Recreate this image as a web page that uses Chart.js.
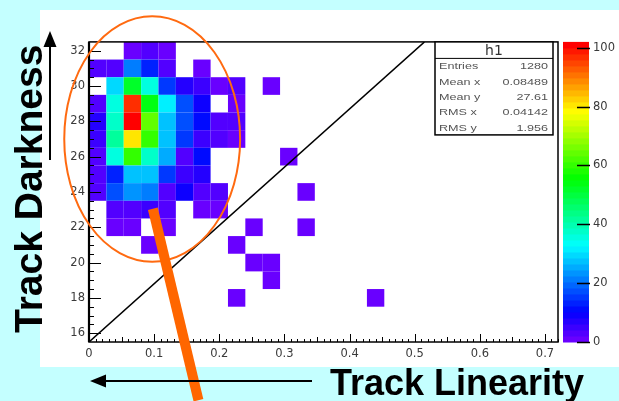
<!DOCTYPE html>
<html>
<head>
<meta charset="utf-8">
<script src="https://cdn.jsdelivr.net/npm/chart.js@4/dist/chart.umd.min.js"></script>
<style>
  html, body { margin: 0; padding: 0; background: #c4ffff; }
  canvas { display: block; }
</style>
</head>
<body>
<canvas id="c" width="619" height="401"></canvas>
<script>
// Histogram "h1": track linearity (x) against track darkness (y)

// binning
const X_RANGE = [0, 0.72];
const X_NBINS = 27;
const Y_RANGE = [15.5, 32.5];
const Z_RANGE = [0, 102];

// y bin centres, one row of counts per entry below
const Y_BINS = [32, 31, 30, 29, 28, 27, 26, 25, 24, 23, 22, 21, 20, 19, 18];

// counts per row, x bins 0..16 (the remaining x bins are empty)
const ROW_32 = [0, 0, 2, 3, 2, 0, 0, 0, 0, 0, 0, 0, 0, 0, 0, 0, 0];
const ROW_31 = [3, 4, 21, 13, 3, 0, 2, 0, 0, 0, 0, 0, 0, 0, 0, 0, 0];
const ROW_30 = [0, 30, 53, 35, 15, 8, 5, 2, 3, 0, 1, 0, 0, 0, 0, 0, 0];
const ROW_29 = [4, 35, 96, 54, 32, 17, 10, 0, 2, 0, 0, 0, 0, 0, 0, 0, 0];
const ROW_28 = [8, 38, 100, 65, 27, 17, 11, 3, 3, 0, 0, 0, 0, 0, 0, 0, 0];
const ROW_27 = [6, 42, 80, 60, 28, 15, 5, 3, 2, 0, 0, 0, 0, 0, 0, 0, 0];
const ROW_26 = [4, 36, 60, 37, 26, 4, 12, 0, 0, 0, 0, 1, 0, 0, 0, 0, 0];
const ROW_25 = [4, 14, 27, 27, 15, 5, 8, 0, 0, 0, 0, 0, 0, 0, 0, 0, 0];
const ROW_24 = [3, 17, 23, 22, 3, 10, 3, 3, 0, 0, 0, 0, 1, 0, 0, 0, 0];
const ROW_23 = [0, 3, 3, 6, 3, 0, 2, 2, 0, 0, 0, 0, 0, 0, 0, 0, 0];
const ROW_22 = [0, 2, 2, 0, 2, 0, 0, 0, 0, 1, 0, 0, 1, 0, 0, 0, 0];
const ROW_21 = [0, 0, 0, 1, 0, 0, 0, 0, 1, 0, 0, 0, 0, 0, 0, 0, 0];
const ROW_20 = [0, 0, 0, 0, 0, 0, 0, 0, 0, 1, 1, 0, 0, 0, 0, 0, 0];
const ROW_19 = [0, 0, 0, 0, 0, 0, 0, 0, 0, 0, 1, 0, 0, 0, 0, 0, 0];
const ROW_18 = [0, 0, 0, 0, 0, 0, 0, 0, 1, 0, 0, 0, 0, 0, 0, 0, 1];
const COUNTS = [ROW_32, ROW_31, ROW_30, ROW_29, ROW_28, ROW_27, ROW_26, ROW_25,
                ROW_24, ROW_23, ROW_22, ROW_21, ROW_20, ROW_19, ROW_18];

// axis labels
const X_TICKS = [0, 0.1, 0.2, 0.3, 0.4, 0.5, 0.6, 0.7];
const Y_TICKS = [16, 18, 20, 22, 24, 26, 28, 30, 32];
const Z_TICKS = [0, 20, 40, 60, 80, 100];

// statistics box
const STAT_NAMES = ['Entries', 'Mean x', 'Mean y', 'RMS x', 'RMS y'];
const STAT_VALUES = ['1280', '0.08489', '27.61', '0.04142', '1.956'];

// annotations (data coordinates)
const DIAGONAL = { x: [0, 0.515], y: [15.5, 32.5] };
const RING = { cx: 0.097, cy: 27.0, rx: 0.135, ry: 6.95 };
const POINTER = { x: [0.098, 0.168], y: [23.05, 12.2] };

const X_BIN_W = (X_RANGE[1] - X_RANGE[0]) / X_NBINS;
const NCOLORS = 50;

// 50-step rainbow palette, violet (low) to red (high)
function paletteColor(i) {
  const hue = 270 - (i + 1) * (270 / NCOLORS);
  return 'hsl(' + hue.toFixed(1) + ',100%,50%)';
}
function colorFor(z) {
  let i = Math.floor(0.01 + (z - Z_RANGE[0]) * NCOLORS / (Z_RANGE[1] - Z_RANGE[0]));
  i = Math.max(0, Math.min(NCOLORS - 1, i));
  return paletteColor(i);
}

const cells = [];
Y_BINS.forEach((yc, r) => {
  COUNTS[r].forEach((n, c) => {
    if (n > 0) cells.push({ x: X_RANGE[0] + (c + 0.5) * X_BIN_W, y: yc, v: n, bin: c });
  });
});

const TICK_FONT = { family: '"DejaVu Sans", Verdana, sans-serif', size: 11.5 };
const TICK_COLOR = '#3a3a3a';

const histPlugin = {
  id: 'histPlugin',
  beforeDraw(chart) {
    const ctx = chart.ctx;
    ctx.save();
    ctx.fillStyle = '#c4ffff';
    ctx.fillRect(0, 0, chart.width, chart.height);
    ctx.fillStyle = '#ffffff';
    ctx.fillRect(40, 10, chart.width - 40, 357);
    ctx.restore();
  },
  beforeDatasetsDraw(chart) {
    const ctx = chart.ctx, a = chart.chartArea;
    const sx = chart.scales.x, sy = chart.scales.y;
    ctx.save();
    ctx.beginPath();
    ctx.rect(a.left, a.top, a.right - a.left, a.bottom - a.top);
    ctx.clip();
    // bins
    chart.data.datasets[0].data.forEach(p => {
      const x0 = sx.getPixelForValue(X_RANGE[0] + p.bin * X_BIN_W);
      const x1 = sx.getPixelForValue(X_RANGE[0] + (p.bin + 1) * X_BIN_W);
      const y0 = sy.getPixelForValue(p.y + 0.5);
      const y1 = sy.getPixelForValue(p.y - 0.5);
      ctx.fillStyle = colorFor(p.v);
      ctx.fillRect(x0, y0, x1 - x0, y1 - y0);
    });
    // diagonal guide line
    ctx.strokeStyle = '#000';
    ctx.lineWidth = 1.5;
    ctx.beginPath();
    ctx.moveTo(sx.getPixelForValue(DIAGONAL.x[0]), sy.getPixelForValue(DIAGONAL.y[0]));
    ctx.lineTo(sx.getPixelForValue(DIAGONAL.x[1]), sy.getPixelForValue(DIAGONAL.y[1]));
    ctx.stroke();
    ctx.restore();
  },
  afterDatasetsDraw(chart) {
    const ctx = chart.ctx, a = chart.chartArea;
    const sx = chart.scales.x, sy = chart.scales.y, sz = chart.scales.z;
    ctx.save();
    ctx.strokeStyle = '#000';
    // frame
    ctx.lineWidth = 1.5;
    ctx.strokeRect(a.left, a.top, a.right - a.left, a.bottom - a.top);
    ctx.lineWidth = 2.2;
    ctx.beginPath();
    ctx.moveTo(a.left, a.top);
    ctx.lineTo(a.left, a.bottom);
    ctx.stroke();
    // x ticks pointing inward
    ctx.lineWidth = 1;
    ctx.beginPath();
    for (let k = 0; k <= 72; k++) {
      const px = Math.round(sx.getPixelForValue(k / 100)) + 0.5;
      const len = k % 10 === 0 ? 8 : (k % 5 === 0 ? 5 : 3);
      ctx.moveTo(px, a.bottom);
      ctx.lineTo(px, a.bottom - len);
    }
    // y ticks pointing inward
    for (let k = 32; k <= 64; k++) {
      const v = k / 2;
      const py = Math.round(sy.getPixelForValue(v)) + 0.5;
      const len = (v % 2 === 0) ? 12 : 5;
      ctx.moveTo(a.left, py);
      ctx.lineTo(a.left + len, py);
    }
    ctx.stroke();

    // palette bar
    const bx0 = a.right + 5, bx1 = a.right + 31;
    for (let i = 0; i < NCOLORS; i++) {
      const z0 = Z_RANGE[0] + i * (Z_RANGE[1] - Z_RANGE[0]) / NCOLORS;
      const z1 = Z_RANGE[0] + (i + 1) * (Z_RANGE[1] - Z_RANGE[0]) / NCOLORS;
      const y0 = sz.getPixelForValue(z1), y1 = sz.getPixelForValue(z0);
      ctx.fillStyle = paletteColor(i);
      ctx.fillRect(bx0, y0, bx1 - bx0, y1 - y0 + 0.5);
    }
    ctx.lineWidth = 1.5;
    ctx.beginPath();
    Z_TICKS.forEach(z => {
      const py = Math.round(sz.getPixelForValue(z)) + 0.5;
      ctx.moveTo(bx1 - 12, py);
      ctx.lineTo(bx1 + 1, py);
    });
    ctx.stroke();

    // statistics box
    const L = a.right - 123, R = a.right - 5, T = a.top, B = a.top + 93;
    ctx.fillStyle = '#fff';
    ctx.fillRect(L, T, R - L, B - T);
    ctx.lineWidth = 1.5;
    ctx.strokeRect(L, T, R - L, B - T);
    ctx.lineWidth = 1;
    ctx.beginPath();
    ctx.moveTo(L, T + 16.5);
    ctx.lineTo(R, T + 16.5);
    ctx.stroke();
    ctx.fillStyle = '#333';
    ctx.textBaseline = 'middle';
    ctx.textAlign = 'center';
    ctx.font = '14px "DejaVu Sans", Verdana, sans-serif';
    ctx.fillText('h1', (L + R) / 2, T + 9);
    ctx.fillStyle = '#555';
    ctx.font = '9px "Liberation Sans", Arial, sans-serif';
    const SX = 1.4;
    STAT_NAMES.forEach((name, i) => {
      const ty = T + 25 + i * 15.3;
      ctx.save();
      ctx.translate(L + 4, ty);
      ctx.scale(SX, 1);
      ctx.textAlign = 'left';
      ctx.fillText(name, 0, 0);
      ctx.restore();
      ctx.save();
      ctx.translate(R - 5, ty);
      ctx.scale(SX, 1);
      ctx.textAlign = 'right';
      ctx.fillText(STAT_VALUES[i], 0, 0);
      ctx.restore();
    });
    ctx.restore();
  },
  afterDraw(chart) {
    const ctx = chart.ctx;
    const sx = chart.scales.x, sy = chart.scales.y;
    ctx.save();
    // highlighted region
    const cx = sx.getPixelForValue(RING.cx), cy = sy.getPixelForValue(RING.cy);
    const rx = sx.getPixelForValue(RING.cx + RING.rx) - cx;
    const ry = cy - sy.getPixelForValue(RING.cy + RING.ry);
    ctx.strokeStyle = '#ff6a10';
    ctx.lineWidth = 2;
    ctx.beginPath();
    ctx.ellipse(cx, cy, rx, ry, 0, 0, Math.PI * 2);
    ctx.stroke();
    // pointer bar
    ctx.strokeStyle = '#ff6600';
    ctx.lineWidth = 10;
    ctx.lineCap = 'butt';
    ctx.beginPath();
    ctx.moveTo(sx.getPixelForValue(POINTER.x[0]), sy.getPixelForValue(POINTER.y[0]));
    ctx.lineTo(sx.getPixelForValue(POINTER.x[1]), sy.getPixelForValue(POINTER.y[1]));
    ctx.stroke();

    // direction arrows
    ctx.strokeStyle = '#000';
    ctx.fillStyle = '#000';
    ctx.lineWidth = 2;
    ctx.beginPath();
    ctx.moveTo(50, 160); ctx.lineTo(50, 44);
    ctx.moveTo(312, 381); ctx.lineTo(102, 381);
    ctx.stroke();
    ctx.beginPath();
    ctx.moveTo(50, 31); ctx.lineTo(43.5, 47); ctx.lineTo(56.5, 47); ctx.closePath();
    ctx.moveTo(90, 381); ctx.lineTo(106, 374.5); ctx.lineTo(106, 387.5); ctx.closePath();
    ctx.fill();

    // axis titles
    ctx.textAlign = 'left';
    ctx.textBaseline = 'alphabetic';
    ctx.font = 'bold 36px "Liberation Sans", Arial, sans-serif';
    ctx.fillText('Track Linearity', 330, 395);
    ctx.translate(42, 333);
    ctx.rotate(-Math.PI / 2);
    ctx.font = 'bold 39px "Liberation Sans", Arial, sans-serif';
    ctx.fillText('Track Darkness', 0, 0);
    ctx.restore();
  }
};

new Chart(document.getElementById('c'), {
  type: 'scatter',
  data: {
    datasets: [{ label: 'h1', data: cells, pointRadius: 0, pointHoverRadius: 0 }]
  },
  options: {
    responsive: false,
    animation: false,
    events: [],
    layout: { padding: { left: 0, right: 0, top: 36, bottom: 0 } },
    plugins: { legend: { display: false }, tooltip: { enabled: false } },
    scales: {
      x: {
        type: 'linear', position: 'bottom', min: X_RANGE[0], max: X_RANGE[1],
        grid: { display: false, drawTicks: false },
        border: { display: false },
        ticks: {
          font: TICK_FONT, color: TICK_COLOR, padding: 5, autoSkip: false, maxRotation: 0,
          callback: v => (v === 0 ? '0' : (Math.round(v * 10) / 10).toString())
        },
        afterBuildTicks: s => { s.ticks = X_TICKS.map(v => ({ value: v })); },
        afterFit: s => { s.height = 59; }
      },
      y: {
        type: 'linear', position: 'left', min: Y_RANGE[0], max: Y_RANGE[1],
        grid: { display: false, drawTicks: false },
        border: { display: false },
        ticks: { font: TICK_FONT, color: TICK_COLOR, padding: 4, autoSkip: false,
                 callback: v => String(v) },
        afterBuildTicks: s => { s.ticks = Y_TICKS.map(v => ({ value: v })); },
        afterFit: s => { s.width = 89; }
      },
      z: {
        type: 'linear', axis: 'y', position: 'right', min: Z_RANGE[0], max: Z_RANGE[1],
        grid: { display: false, drawTicks: false },
        border: { display: false },
        ticks: { font: TICK_FONT, color: TICK_COLOR, padding: 35, autoSkip: false,
                 callback: v => String(v) },
        afterBuildTicks: s => { s.ticks = Z_TICKS.map(v => ({ value: v })); },
        afterFit: s => { s.width = 61; }
      }
    }
  },
  plugins: [histPlugin]
});
</script>
</body>
</html>
